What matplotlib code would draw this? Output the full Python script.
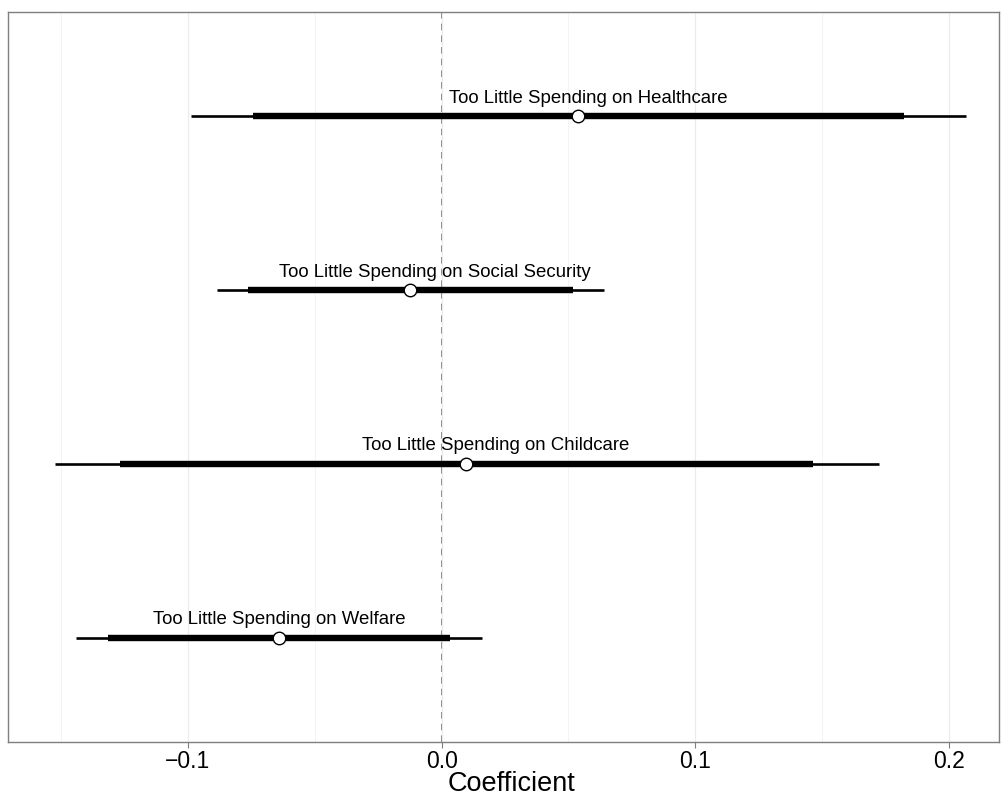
import matplotlib
matplotlib.use("Agg")
import matplotlib.pyplot as plt

plt.rcParams['font.family'] = ['Liberation Sans', 'DejaVu Sans']

# coefficient estimates, bottom to top
labels = ['Too Little Spending on Welfare',
          'Too Little Spending on Childcare',
          'Too Little Spending on Social Security',
          'Too Little Spending on Healthcare']
coef = [-0.064, 0.0096, -0.0124, 0.0537]
outer_lo = [-0.144, -0.1523, -0.0885, -0.0987]
outer_hi = [0.0159, 0.1724, 0.064, 0.2066]
inner_lo = [-0.1314, -0.1267, -0.0762, -0.0743]
inner_hi = [0.0033, 0.1463, 0.0518, 0.1822]
label_x = [-0.064, 0.0214, -0.0026, 0.058]

fig = plt.figure(figsize=(10.01, 7.96), dpi=100)
ax = fig.add_axes([8 / 1001, 54 / 796, 991 / 1001, 730 / 796])

ypos = list(range(1, len(labels) + 1))

# zero reference line
ax.axvline(0, color='#7a7a7a', ls=(0, (4, 3)), lw=1.2, zorder=1)

for i, y in enumerate(ypos):
    ax.plot([outer_lo[i], outer_hi[i]], [y, y], color='black', lw=1.9,
            solid_capstyle='butt', zorder=2)
    ax.plot([inner_lo[i], inner_hi[i]], [y, y], color='black', lw=4.6,
            solid_capstyle='butt', zorder=3)
    ax.plot(coef[i], y, 'o', ms=9, mfc='white', mec='black', mew=1.0, zorder=4)
    ax.text(label_x[i], y + 0.055, labels[i], ha='center', va='bottom',
            fontsize=13.4)

ax.set_xlim(-0.1708, 0.2196)
ax.set_ylim(0.4, 4.6)
ax.set_xticks([-0.1, 0.0, 0.1, 0.2])
ax.set_xticklabels(['\u22120.1', '0.0', '0.1', '0.2'])
ax.set_xticks([-0.15, -0.05, 0.05, 0.15], minor=True)
ax.set_yticks([])
ax.grid(True, axis='x', which='major', color='#ebebeb', lw=0.8, zorder=0)
ax.grid(True, axis='x', which='minor', color='#f3f3f3', lw=0.7, zorder=0)
ax.tick_params(axis='x', which='major', labelsize=16.5, length=4, color='#7f7f7f',
               pad=2)
ax.tick_params(axis='x', which='minor', length=0)
for s in ax.spines.values():
    s.set_color('#7f7f7f')
    s.set_linewidth(1.0)
ax.set_xlabel('Coefficient', fontsize=19.5, labelpad=-2)
ax.xaxis.label.set_x(0.5076)

fig.savefig('out.png', dpi=100)
